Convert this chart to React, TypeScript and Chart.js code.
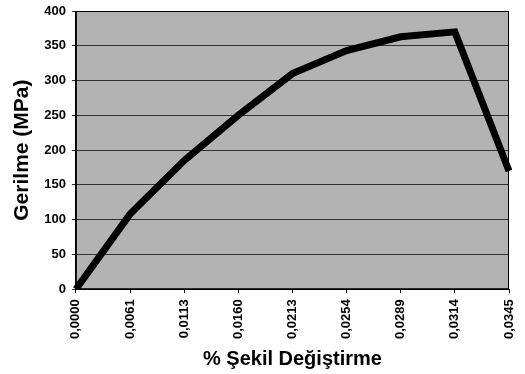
import React, { useEffect, useRef } from "react";
import { Chart, registerables } from "chart.js";

Chart.register(...registerables);

const strainLabels = ["0,0000", "0,0061", "0,0113", "0,0160", "0,0213", "0,0254", "0,0289", "0,0314", "0,0345"];
const stressValues = [0, 108, 185, 250, 310, 343, 363, 370, 170];
const yTicks = [0, 50, 100, 150, 200, 250, 300, 350, 400];

const FONT = "'Liberation Sans', Arial, sans-serif";

const plotBg = {
  id: "plotBg",
  beforeDraw(chart: any) {
    const { ctx, chartArea } = chart;
    if (!chartArea) return;
    ctx.save();
    ctx.fillStyle = "#b3b3b3";
    ctx.fillRect(chartArea.left, chartArea.top, chartArea.right - chartArea.left, chartArea.bottom - chartArea.top);
    ctx.restore();
  },
  afterDraw(chart: any) {
    const { ctx, chartArea } = chart;
    ctx.save();
    ctx.strokeStyle = "#000";
    ctx.lineWidth = 1;
    ctx.strokeRect(chartArea.left + 0.5, chartArea.top + 0.5, chartArea.right - chartArea.left - 1, chartArea.bottom - chartArea.top - 1);
    ctx.restore();
  },
};

export default function App() {
  const ref = useRef<HTMLCanvasElement>(null);
  useEffect(() => {
    document.body.style.margin = "0";
    const chart = new Chart(ref.current!, {
      type: "line",
      data: {
        labels: strainLabels,
        datasets: [
          {
            data: stressValues,
            borderColor: "#000",
            borderWidth: 7,
            pointRadius: 0,
            tension: 0,
            fill: false,
            borderJoinStyle: "miter",
          },
        ],
      },
      options: {
        animation: false,
        responsive: false,
        maintainAspectRatio: false,
        layout: { padding: { top: 11, right: 16, left: 10, bottom: 3 } },
        plugins: { legend: { display: false }, tooltip: { enabled: false } },
        scales: {
          x: {
            type: "category",
            offset: false,
            afterFit: (scale: any) => {
              scale.paddingRight = 0;
              scale.paddingLeft = 0;
            },
            grid: { drawOnChartArea: false, drawTicks: true, tickLength: 4, color: "#000" },
            border: { color: "#000" },
            ticks: {
              color: "#000",
              font: { family: FONT, size: 13, weight: "bold" },
              minRotation: 90,
              maxRotation: 90,
              padding: 6,
              autoSkip: false,
            },
            title: {
              display: true,
              text: "% Şekil Değiştirme",
              color: "#000",
              font: { family: FONT, size: 20, weight: "bold" },
              padding: { top: 2, bottom: 0 },
            },
          },
          y: {
            min: 0,
            max: 400,
            afterFit: (scale: any) => {
              scale.paddingTop = 0;
              scale.paddingBottom = 0;
            },
            afterBuildTicks: (axis: any) => {
              axis.ticks = yTicks.map((v) => ({ value: v }));
            },
            grid: { color: "#333", lineWidth: 1, tickLength: 4, drawTicks: true },
            border: { color: "#000" },
            ticks: {
              color: "#000",
              font: { family: FONT, size: 13, weight: "bold" },
              padding: 6,
            },
            title: {
              display: true,
              text: "Gerilme (MPa)",
              color: "#000",
              font: { family: FONT, size: 21, weight: "bold" },
              padding: { top: 0, bottom: 3 },
            },
          },
        },
      },
      plugins: [plotBg],
    });
    return () => chart.destroy();
  }, []);
  return (
    <div style={{ width: 525, height: 374, background: "#fff" }}>
      <canvas ref={ref} width={525} height={374} />
    </div>
  );
}
